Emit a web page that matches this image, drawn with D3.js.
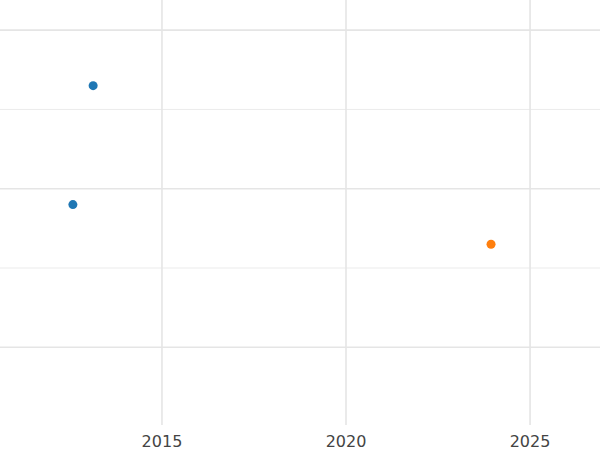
<!DOCTYPE html><html><head><script src="https://cdn.jsdelivr.net/npm/d3@7"></script>
<style>body{margin:0}</style></head><body><svg width="600" height="450"></svg><script>
const xTicks=[2015,2020,2025];
const yMajor=[2,3,4], yMinor=[2.5,3.5];
const seriesA=[{x:2013.13,y:3.65},{x:2012.58,y:2.90}];
const seriesB=[{x:2023.94,y:2.65}];
const colors=["#1f77b4","#ff7f0e"];
const svg=d3.select("svg");
const x=d3.scaleLinear().domain([2010.6,2026.9]).range([0,600]);
const y=d3.scaleLinear().domain([1.51,4.19]).range([425,0]);
svg.append("rect").attr("width",600).attr("height",450).attr("fill","#fff");
svg.selectAll(".ymin").data(yMinor).join("line").attr("x1",0).attr("x2",600).attr("y1",d=>y(d)).attr("y2",d=>y(d)).attr("stroke","#ebebeb").attr("stroke-width",1);
svg.selectAll(".ymaj").data(yMajor).join("line").attr("x1",0).attr("x2",600).attr("y1",d=>y(d)).attr("y2",d=>y(d)).attr("stroke","#e5e5e5").attr("stroke-width",1.6);
svg.selectAll(".xg").data(xTicks).join("line").attr("x1",d=>x(d)).attr("x2",d=>x(d)).attr("y1",0).attr("y2",425).attr("stroke","#e5e5e5").attr("stroke-width",1.6);
svg.selectAll(".xt").data(xTicks).join("text").attr("x",d=>x(d)).attr("y",447).attr("text-anchor","middle").attr("font-family","DejaVu Sans").attr("font-size",16).attr("fill","#444").text(d=>d);
[seriesA,seriesB].forEach((s,i)=>svg.append("g").selectAll("circle").data(s).join("circle").attr("cx",d=>x(d.x)).attr("cy",d=>y(d.y)).attr("r",4.5).attr("fill",colors[i]));
</script></body></html>
